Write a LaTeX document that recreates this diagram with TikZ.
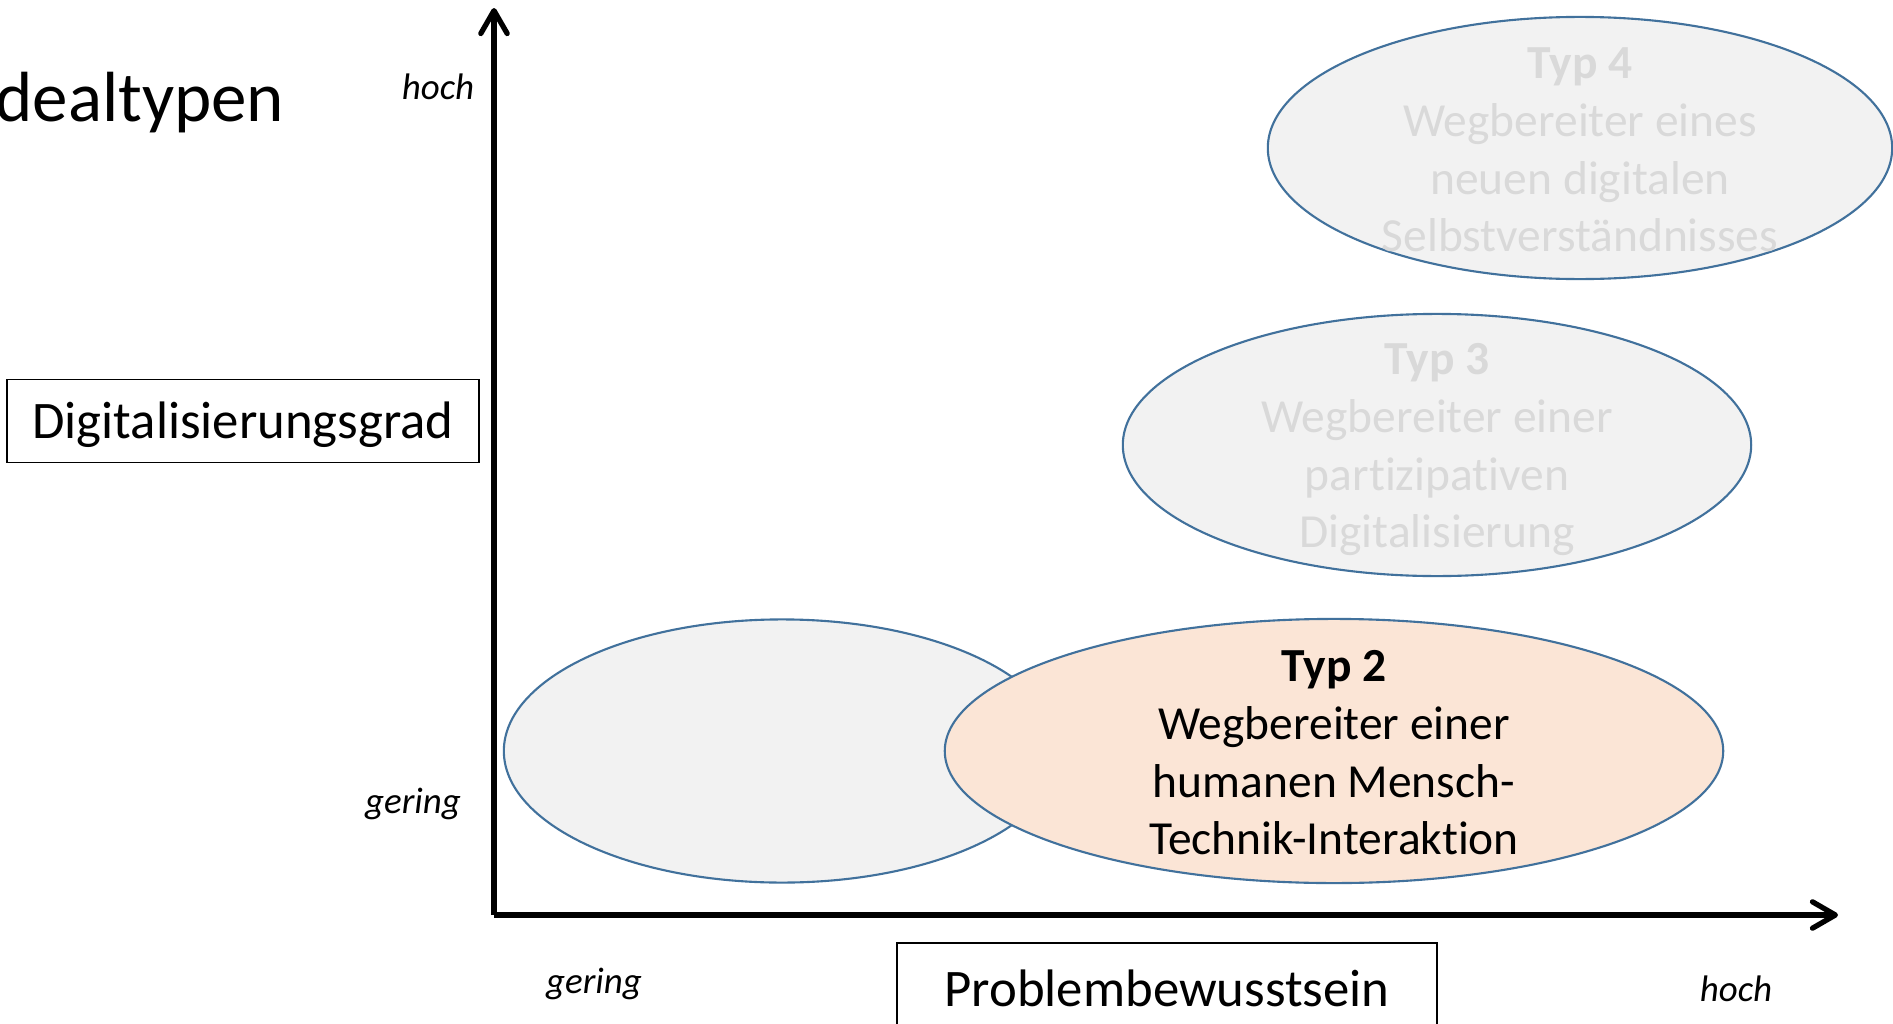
\documentclass[tikz,border=0pt]{standalone}
\usepackage{fontspec}
\setmainfont{Carlito}[Ligatures=NoCommon]
\usetikzlibrary{arrows.meta,shapes.geometric}
\definecolor{rimblue}{HTML}{41719C}
\definecolor{pale}{HTML}{F2F2F2}
\definecolor{peach}{HTML}{FBE5D6}
\definecolor{faded}{HTML}{D9D9D9}
% separate t and i so that no ligature is formed
\newcommand{\nolig}{\kern0pt}
\begin{document}
\begin{tikzpicture}[x=0.01cm,y=-0.01cm,
  axis/.style={line width=1.5pt,-{Straight Barb[length=6.5pt,width=7.5pt,round]}},
  typeoval/.style={ellipse,draw=rimblue,line width=0.6pt,fill=pale,inner sep=0pt},
  typetext/.style={align=center,font=\fontsize{13.5}{16.4}\selectfont},
  labelbox/.style={draw=black,line width=0.45pt,inner sep=0pt,font=\fontsize{15}{18}\selectfont},
  level/.style={font=\fontsize{10.5}{12.6}\selectfont\itshape}]
\useasboundingbox (0,0) rectangle (1893,1024);
\fill[white] (0,0) rectangle (1893,1024);

% title, partly cut off at the left edge
\node[anchor=east,inner sep=0pt,font=\fontsize{20.2}{24}\selectfont] (title) at (285,103) {Idealtypen};

% type ellipses
\node[typeoval,minimum width=5.56cm,minimum height=2.63cm] (t1) at (782,751) {};
\node[typeoval,fill=peach,minimum width=7.78cm,minimum height=2.64cm] (t2) at (1334,751) {};
\node[typetext] (t2text) at (1334,753) {\textbf{Typ 2}\\Wegbereiter einer\\humanen Mensch-\\Technik-Interakt\nolig ion};
\node[typeoval,minimum width=6.28cm,minimum height=2.62cm] (t3) at (1437,445) {};
\node[typetext,text=faded] (t3text) at (1437,450) {\textbf{Typ 3}\\Wegbereiter einer\\part\nolig izipat\nolig iven\\Digitalisierung};
\node[typeoval,minimum width=6.24cm,minimum height=2.62cm] (t4) at (1580,148) {};
\node[typetext,text=faded] (t4text) at (1580,150) {\textbf{Typ 4}\\Wegbereiter eines\\neuen digitalen\\Selbstverständnisses};

% axes
\coordinate (origin) at (494,915);
\coordinate (ytip) at (494,8);
\coordinate (xtip) at (1838,915);
\draw[axis] (origin) -- (ytip);
\draw[axis] (origin) -- (xtip);

% axis captions
\node[labelbox,minimum width=4.72cm,minimum height=0.83cm,text height=13.3pt,text depth=3.3pt] (ylab) at (243,421) {Digitalisierungsgrad};
\node[labelbox,minimum width=5.40cm,minimum height=0.90cm] (xlab) at (1167,988) {Problembewusstsein};

% scale ends
\node[level] (yhigh) at (438,87) {hoch};
\node[level] (ylow) at (413,804) {gering};
\node[level] (xlow) at (594,984) {gering};
\node[level] (xhigh) at (1736,989) {hoch};
\end{tikzpicture}
\end{document}
